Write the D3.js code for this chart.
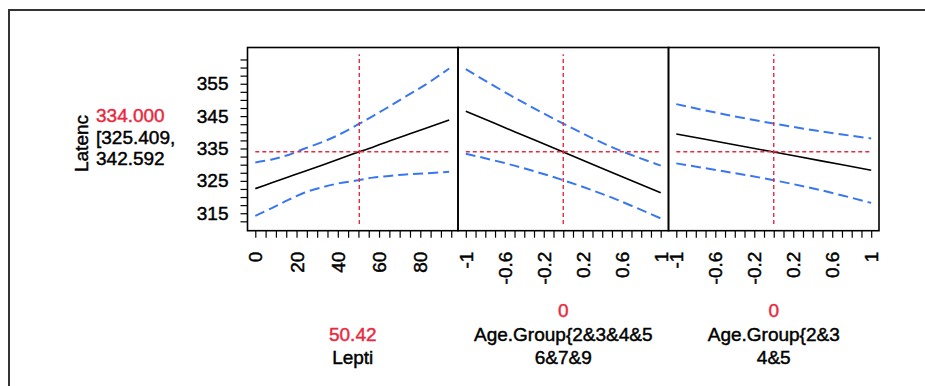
<!DOCTYPE html>
<html>
<head>
<meta charset="utf-8">
<script src="https://cdn.jsdelivr.net/npm/d3@7"></script>
<style>
  body { margin: 0; background: #fff; }
  svg text { font-family: "Liberation Sans", Arial, sans-serif; stroke-width: 0.45px; }
</style>
</head>
<body>
<div id="chart"></div>
<script>
// Prediction profiler: Latenc vs Lepti and two Age.Group contrasts

// response
var responseName = "Latenc";
var responseValue = "334.000";
var responseCI = ["[325.409,", "342.592"];
var responseCurrent = 334.0;
var responseRange = [311.7, 364.1];
var yMajorTicks = [315, 325, 335, 345, 355];

// factor 1: Lepti
var leptiX     = [0, 8, 16, 24, 33, 41, 50, 57, 65, 73, 82, 94];
var leptiFit   = [322.6, 324.4, 326.2, 328.0, 330.0, 331.8, 333.9, 335.4, 337.3, 339.1, 341.1, 343.8];
var leptiLower = [314.2, 316.6, 319.1, 321.4, 323.1, 324.3, 325.2, 326.0, 326.5, 327.0, 327.3, 327.8];
var leptiUpper = [330.7, 331.6, 333.0, 335.0, 337.1, 339.4, 342.5, 345.0, 348.0, 351.1, 354.5, 359.7];

// factor 2: Age.Group{2&3&4&5 / 6&7&9
var age1X     = [-1, -0.5, 0, 0.5, 1];
var age1Fit   = [346.5, 340.2, 333.9, 327.6, 321.3];
var age1Lower = [333.4, 329.7, 325.2, 319.8, 313.4];
var age1Upper = [359.5, 350.7, 342.7, 335.4, 329.7];

// factor 3: Age.Group{2&3 / 4&5
var age2X     = [-1, -0.5, 0, 0.5, 1];
var age2Fit   = [339.5, 336.7, 333.9, 331.1, 328.3];
var age2Lower = [330.4, 327.9, 325.2, 322.0, 318.2];
var age2Upper = [348.7, 345.5, 342.7, 340.2, 338.1];

// current settings and labels under each panel
var currentX = [50.42, 0, 0];
var currentLabels = ["50.42", "0", "0"];
var factorLabels = [["Lepti"], ["Age.Group{2&3&4&5", "6&7&9"], ["Age.Group{2&3", "4&5"]];
var xRanges = [[0, 94.5], [-1, 1], [-1, 1]];
var xMajorTicks = [[0, 20, 40, 60, 80], [-1, -0.6, -0.2, 0.2, 0.6, 1], [-1, -0.6, -0.2, 0.2, 0.6, 1]];
var xMinorStep = [5, 0.1, 0.1];

var panels = [
    { x: leptiX, fit: leptiFit, lower: leptiLower, upper: leptiUpper },
    { x: age1X, fit: age1Fit, lower: age1Lower, upper: age1Upper },
    { x: age2X, fit: age2Fit, lower: age2Lower, upper: age2Upper }
];

var width = 925;
var height = 386;
var red = "#e8293f";
var blue = "#3877f0";
var fontSize = 19;

var panelLeft = 247.5;
var panelWidth = 210.5;
var panelTop = 47.5;
var panelBottom = 230.7;

function pad(r) {
    var d = (r[1] - r[0]) * 0.04;
    return [r[0] - d, r[1] + d];
}

function fmt(v) {
    return String(Math.round(v * 10) / 10);
}

// text helper: same colour for fill and a thin stroke (heavier look)
function ink(sel, color) {
    return sel.attr("font-size", fontSize).attr("fill", color).attr("stroke", color);
}

var svg = d3.select("#chart")
            .append("svg")
            .attr("width", width)
            .attr("height", height);

// outer frame
svg.append("rect")
   .attr("x", 9).attr("y", 10)
   .attr("width", 1000).attr("height", 500)
   .attr("fill", "none")
   .attr("stroke", "#333")
   .attr("stroke-width", 2);

var y = d3.scaleLinear()
          .domain(pad(responseRange))
          .range([panelBottom, panelTop]);

// y axis (minor ticks every 2.5, labels every 10)
var yTicks = d3.range(312.5, 362.6, 2.5);
var yAxis = svg.append("g")
   .attr("transform", "translate(" + panelLeft + ",0)")
   .call(d3.axisLeft(y)
           .tickValues(yTicks)
           .tickSize(7)
           .tickPadding(12)
           .tickFormat(function(d) { return yMajorTicks.indexOf(d) >= 0 ? d : ""; }));
yAxis.select(".domain").remove();
yAxis.selectAll("line").attr("stroke", "#000").attr("stroke-width", 1.2);
ink(yAxis.selectAll("text"), "#000");

// response labels on the left
ink(svg.append("text"), "#000")
   .attr("transform", "translate(88,143.5) rotate(-90)")
   .attr("text-anchor", "middle")
   .text(responseName);

ink(svg.append("text"), red)
   .attr("x", 96).attr("y", 121.7)
   .text(responseValue);

var ci = ink(svg.append("text"), "#000")
   .attr("x", 96).attr("y", 144);
ci.selectAll("tspan")
  .data(responseCI)
  .enter()
  .append("tspan")
  .attr("x", 96)
  .attr("dy", function(d, i) { return i === 0 ? 0 : 21; })
  .text(function(d) { return d; });

panels.forEach(function(p, i) {
    var left = panelLeft + i * panelWidth;
    var x = d3.scaleLinear()
              .domain(pad(xRanges[i]))
              .range([left, left + panelWidth]);

    var g = svg.append("g");

    // fitted line and confidence band
    var line = function(vals) {
        return d3.line()
                 .curve(d3.curveCatmullRom)
                 .x(function(d, k) { return x(p.x[k]); })
                 .y(function(d) { return y(d); })(vals);
    };

    g.append("path").attr("d", line(p.upper))
     .attr("fill", "none").attr("stroke", blue)
     .attr("stroke-width", 2).attr("stroke-dasharray", "10,5");
    g.append("path").attr("d", line(p.lower))
     .attr("fill", "none").attr("stroke", blue)
     .attr("stroke-width", 2).attr("stroke-dasharray", "10,5");
    g.append("path").attr("d", line(p.fit))
     .attr("fill", "none").attr("stroke", "#000")
     .attr("stroke-width", 1.6);

    // current value crosshair
    g.append("line")
     .attr("x1", x(xRanges[i][0])).attr("x2", x(xRanges[i][1]))
     .attr("y1", y(responseCurrent)).attr("y2", y(responseCurrent))
     .attr("stroke", red).attr("stroke-width", 1.4)
     .attr("stroke-dasharray", "4,3");
    g.append("line")
     .attr("x1", x(currentX[i])).attr("x2", x(currentX[i]))
     .attr("y1", y(responseRange[0])).attr("y2", y(responseRange[1]))
     .attr("stroke", red).attr("stroke-width", 1.4)
     .attr("stroke-dasharray", "4,3");

    // panel box
    g.append("rect")
     .attr("x", left).attr("y", panelTop)
     .attr("width", panelWidth).attr("height", panelBottom - panelTop)
     .attr("fill", "none").attr("stroke", "#000").attr("stroke-width", 1.6);

    // x axis with rotated labels
    var xt = d3.range(xRanges[i][0], xRanges[i][1] + xMinorStep[i] / 2, xMinorStep[i]);
    var majors = xMajorTicks[i].map(fmt);
    var xAxis = svg.append("g")
       .attr("transform", "translate(0," + panelBottom + ")")
       .call(d3.axisBottom(x)
               .tickValues(xt)
               .tickSize(7)
               .tickFormat(function(d) { return majors.indexOf(fmt(d)) >= 0 ? fmt(d) : ""; }));
    xAxis.select(".domain").remove();
    xAxis.selectAll("line").attr("stroke", "#000").attr("stroke-width", 1.2);
    ink(xAxis.selectAll("text"), "#000")
         .attr("transform", "rotate(-90)")
         .attr("text-anchor", "end")
         .attr("x", -21)
         .attr("y", 0)
         .attr("dy", "0.35em");

    // current value and factor name below the panel
    var cx = left + panelWidth / 2;
    var labels = factorLabels[i];
    var baseLast = 364;
    ink(svg.append("text"), red)
       .attr("x", cx)
       .attr("y", baseLast - labels.length * 23.5)
       .attr("text-anchor", "middle")
       .text(currentLabels[i]);
    labels.forEach(function(t, k) {
        ink(svg.append("text"), "#000")
           .attr("x", cx)
           .attr("y", baseLast - (labels.length - 1 - k) * 23.5)
           .attr("text-anchor", "middle")
           .text(t);
    });
});
</script>
</body>
</html>
